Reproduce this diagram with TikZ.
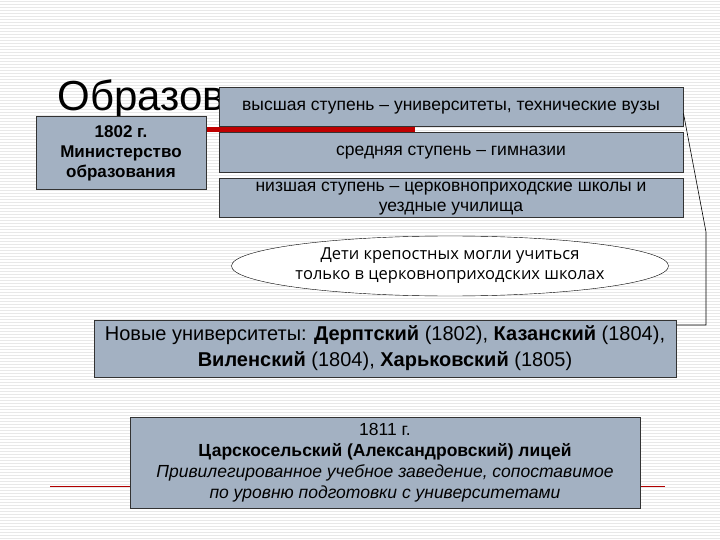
\documentclass[tikz,border=0pt]{standalone}
\usepackage{fontspec}
\setmainfont{Liberation Sans}
\newfontfamily\ellfont{Open Sans}
\usetikzlibrary{shapes.geometric}
\definecolor{boxc}{HTML}{A3B1C2}
\tikzset{x=1pt,y=-1pt,
 bx/.style={draw=black!80,line width=1pt,fill=boxc,align=center,inner sep=0pt,font=\fontsize{17.5}{20}\selectfont},
}
\begin{document}
\begin{tikzpicture}
\useasboundingbox (0,0) rectangle (720,540);
\fill[white] (0,0) rectangle (720,540);
\foreach \y in {1,4,...,540} \draw[black!9,line width=0.6pt] (0,\y) -- (720,\y);
\node[anchor=base west,font=\fontsize{42}{42}\selectfont] (title) at (54,111) {Образование};
\draw[red!75!black,line width=5pt] (205,130) -- (415,130);
\draw[red!70!black,line width=0.8pt] (50,486) -- (665,486);
\node[bx,minimum width=170,minimum height=73,font=\fontsize{17}{20}\selectfont] (min) at (121,153.5) {\textbf{1802 г.}\\\textbf{Министерство}\\\textbf{образования}};
\node[bx,minimum width=464,minimum height=39] (b1) at (451,107.5) {высшая ступень – университеты, технические вузы};
\node[bx,minimum width=464,minimum height=40] (b2) at (451,153) {средняя ступень – гимназии};
\node[bx,minimum width=464,minimum height=39] (b3) at (451,198.5) {низшая ступень – церковноприходские школы и\\уездные училища};
\node[ellipse,draw,fill=white,minimum width=432,minimum height=60,inner sep=0pt,align=center,font=\ellfont\fontsize{16.5}{20}\selectfont] (ell) at (450,266) {Дети крепостных могли учиться\\только в церковноприходских школах};
\node[bx,minimum width=582,minimum height=57,font=\fontsize{20}{26}\selectfont] (uni) at (385,348.5) {Новые университеты: \textbf{Дерптский} (1802), \textbf{Казанский} (1804),\\\textbf{Виленский} (1804), \textbf{Харьковский} (1805)};
\node[bx,minimum width=510,minimum height=91,font=\fontsize{17.5}{21}\selectfont] (lyc) at (385,462.5) {1811 г.\\\textbf{Царскосельский (Александровский) лицей}\\\textit{Привилегированное учебное заведение, сопоставимое}\\\textit{по уровню подготовки с университетами}};
\coordinate (c1) at (706,232);
\coordinate (c2) at (706,325);
\draw[black,line width=0.6pt] ([yshift=-6]b1.east) -- (c1) -- (c2) -- (c2 -| uni.east);
\end{tikzpicture}
\end{document}
